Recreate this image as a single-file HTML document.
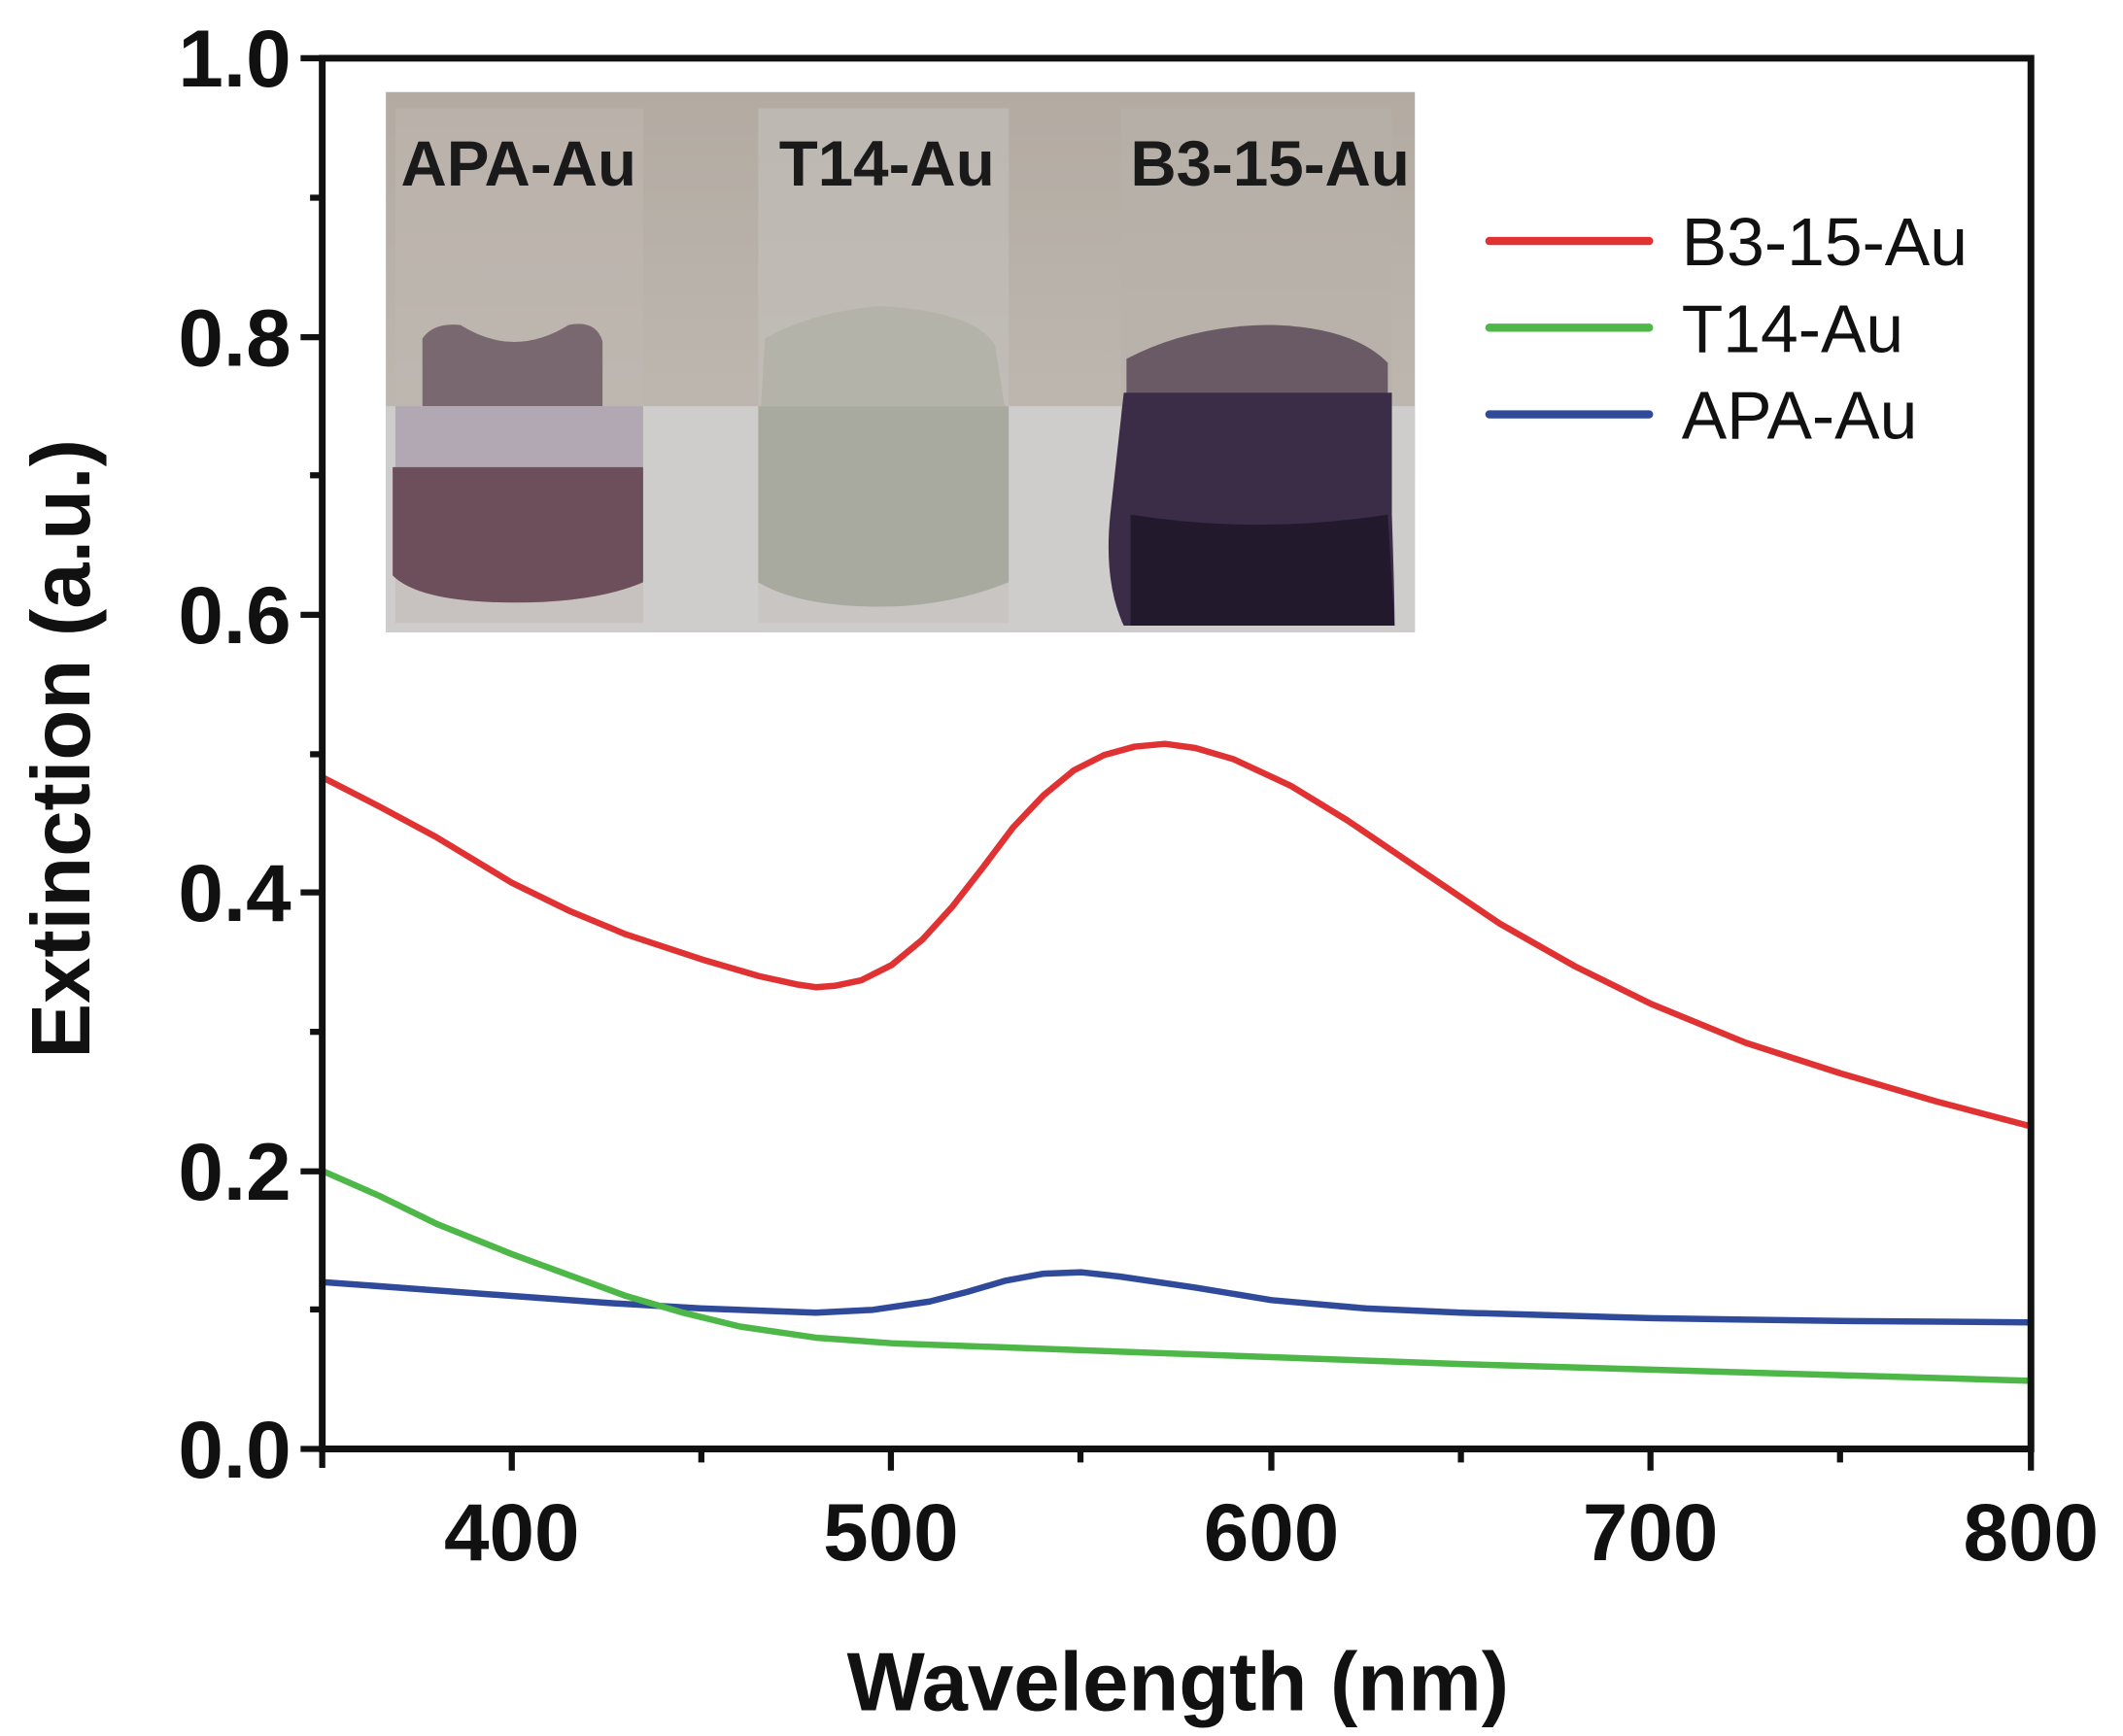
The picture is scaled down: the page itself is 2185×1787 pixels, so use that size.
<!DOCTYPE html>
<html><head><meta charset="utf-8"><style>
html,body{margin:0;padding:0;background:#fff;width:2185px;height:1787px;overflow:hidden}
svg{display:block}
text{font-family:"Liberation Sans",Arial,sans-serif}
</style></head><body>
<svg width="2185" height="1787" viewBox="0 0 1568 1282" preserveAspectRatio="none" xmlns="http://www.w3.org/2000/svg">
<defs>
<linearGradient id="bg" x1="0" y1="0" x2="0" y2="1">
<stop offset="0" stop-color="#b3aba2"/><stop offset="0.6" stop-color="#bdb7b0"/><stop offset="1" stop-color="#c9c6c2"/>
</linearGradient>
</defs>
<rect x="285" y="68" width="760" height="399" fill="url(#bg)"/>
<rect x="285" y="300" width="760" height="167" fill="#cfcdcc"/>
<rect x="292" y="80" width="183" height="380" fill="#c0b8b2" opacity="0.5"/>
<path d="M312 250 Q320 238 340 240 Q380 265 420 240 Q440 236 445 252 L445 300 L312 300 Z" fill="#7a6870"/>
<rect x="292" y="300" width="183" height="45" fill="#b1a8b4"/>
<path d="M290 345 L475 345 L475 430 Q440 445 380 445 Q310 445 290 425 Z" fill="#6c4f5a"/>
<rect x="560" y="80" width="185" height="380" fill="#c3c0ba" opacity="0.6"/>
<path d="M565 250 Q600 230 650 226 Q720 230 735 255 L742 300 L562 300 Z" fill="#b4b3aa"/>
<path d="M560 300 L745 300 L745 430 Q700 448 650 448 Q590 448 560 430 Z" fill="#a9aa9f"/>
<rect x="828" y="80" width="200" height="380" fill="#b7b0aa" opacity="0.6"/>
<path d="M832 265 Q880 240 940 240 Q1000 242 1025 268 L1025 300 L832 300 Z" fill="#6a5a66"/>
<path d="M830 290 L1028 290 L1028 380 Q1030 440 1030 462 L830 462 Q815 430 820 380 Z" fill="#3b2d48"/>
<path d="M835 380 Q930 395 1025 380 L1030 462 L835 462 Z" fill="#221a2c"/>
<text x="383" y="137" font-size="47" font-weight="bold" text-anchor="middle" fill="#1a1a1a">APA-Au</text>
<text x="655" y="137" font-size="47" font-weight="bold" text-anchor="middle" fill="#1a1a1a">T14-Au</text>
<text x="938" y="137" font-size="47" font-weight="bold" text-anchor="middle" fill="#1a1a1a">B3-15-Au</text>

<g transform="translate(238,1070) scale(2.804,-1027)" fill="none" stroke-linejoin="round">
<polyline vector-effect="non-scaling-stroke" stroke="#2f4a9a" stroke-width="6.5" points="0,0.12 25,0.115 50,0.11 75,0.105 100,0.101 130,0.098 145,0.1 160,0.106 170,0.113 180,0.121 190,0.126 200,0.127 210,0.124 230,0.116 250,0.107 275,0.101 300,0.098 350,0.094 400,0.092 450,0.091"/>
<polyline vector-effect="non-scaling-stroke" stroke="#4db848" stroke-width="6.5" points="0,0.2 15,0.182 30,0.162 50,0.14 65,0.125 80,0.11 95,0.098 110,0.088 130,0.08 150,0.076 200,0.071 250,0.066 300,0.061 350,0.057 400,0.053 450,0.049"/>
<polyline vector-effect="non-scaling-stroke" stroke="#e03232" stroke-width="6.5" points="0,0.483 15,0.462 30,0.44 50,0.407 65,0.387 80,0.37 100,0.352 115,0.34 125,0.334 130,0.332 135,0.333 142,0.337 150,0.348 158,0.366 166,0.39 174,0.418 182,0.447 190,0.47 198,0.488 206,0.499 214,0.505 222,0.507 230,0.504 240,0.496 255,0.477 270,0.452 290,0.415 310,0.378 330,0.347 350,0.32 375,0.292 400,0.27 425,0.25 450,0.232"/>
</g>

<g stroke="#111" stroke-width="5" fill="none" stroke-linecap="square">
<path d="M238 43 L1500 43 L1500 1070 L238 1070 Z"/>
</g>
<g stroke="#111" stroke-width="4.5">
<line x1="222" y1="43" x2="238" y2="43"/><line x1="222" y1="249" x2="238" y2="249"/><line x1="222" y1="454" x2="238" y2="454"/><line x1="222" y1="659" x2="238" y2="659"/><line x1="222" y1="865" x2="238" y2="865"/><line x1="222" y1="1070" x2="238" y2="1070"/>
<line x1="229" y1="146" x2="238" y2="146"/><line x1="229" y1="351" x2="238" y2="351"/><line x1="229" y1="557" x2="238" y2="557"/><line x1="229" y1="762" x2="238" y2="762"/><line x1="229" y1="967" x2="238" y2="967"/>
<line x1="238" y1="1070" x2="238" y2="1084"/><line x1="378" y1="1070" x2="378" y2="1086"/><line x1="658" y1="1070" x2="658" y2="1086"/><line x1="939" y1="1070" x2="939" y2="1086"/><line x1="1219" y1="1070" x2="1219" y2="1086"/><line x1="1500" y1="1070" x2="1500" y2="1086"/>
<line x1="518" y1="1070" x2="518" y2="1080"/><line x1="798" y1="1070" x2="798" y2="1080"/><line x1="1079" y1="1070" x2="1079" y2="1080"/><line x1="1359" y1="1070" x2="1359" y2="1080"/>
</g>
<g font-size="60" font-weight="bold" fill="#111" text-anchor="end">
<text x="215" y="64">1.0</text><text x="215" y="270">0.8</text><text x="215" y="475">0.6</text><text x="215" y="680">0.4</text><text x="215" y="886">0.2</text><text x="215" y="1091">0.0</text>
</g>
<g font-size="60" font-weight="bold" fill="#111" text-anchor="middle">
<text x="378" y="1152">400</text><text x="658" y="1152">500</text><text x="939" y="1152">600</text><text x="1219" y="1152">700</text><text x="1500" y="1152">800</text>
</g>
<text x="870" y="1263" font-size="61" font-weight="bold" text-anchor="middle" fill="#111">Wavelength (nm)</text>
<text transform="translate(66,553) rotate(-90)" font-size="61" font-weight="bold" text-anchor="middle" fill="#111">Extinction (a.u.)</text>

<g stroke-width="6" stroke-linecap="round">
<line x1="1100" y1="178" x2="1218" y2="178" stroke="#e03232"/>
<line x1="1100" y1="242" x2="1218" y2="242" stroke="#4db848"/>
<line x1="1100" y1="306" x2="1218" y2="306" stroke="#2f4a9a"/>
</g>
<g font-size="50" fill="#111">
<text x="1242" y="196">B3-15-Au</text>
<text x="1242" y="260">T14-Au</text>
<text x="1242" y="324">APA-Au</text>
</g>
</svg>
</body></html>
